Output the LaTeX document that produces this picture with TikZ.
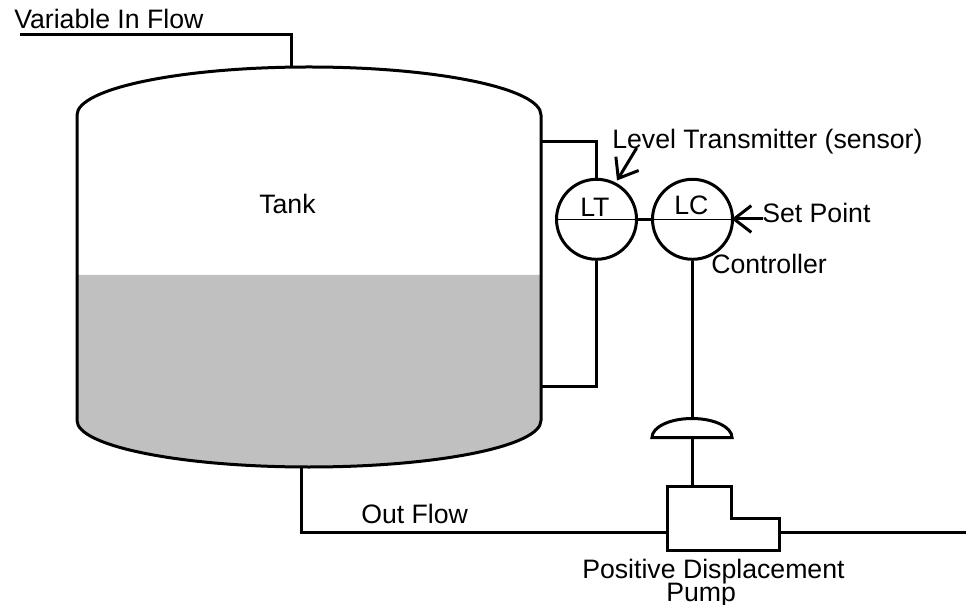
\documentclass[tikz,border=0pt]{standalone}
\usepackage{fontspec}
\setmainfont{Liberation Sans}
\usetikzlibrary{arrows.meta}

\begin{document}
\begin{tikzpicture}[x=0.75pt, y=-0.75pt,
			pipe/.style = {line width=2.25pt},
			pointer/.style = {line width=2.25pt, -{Straight Barb[length=13pt, width=20pt, line width=2.25pt]}},
			instrument/.style = {circle, draw, line width=2.25pt, minimum size=60pt, inner sep=0pt},
			lbl/.style = {anchor=base west, inner sep=0pt, font=\fontsize{20}{20}\selectfont}]

			\useasboundingbox (0, 0) rectangle (966, 605);

			% liquid in the tank
			\fill [fill={rgb,255:red,192;green,192;blue,192}] (77, 275) -- (541, 275) -- (541, 420.5) arc [start angle=0, end angle=-180, x radius=232, y radius=-46.5] -- cycle;

			% draw the tank
			\draw [pipe] (77, 420.5) -- (77, 115) arc [start angle=180, end angle=0, x radius=232, y radius=-48] -- (541, 420.5) arc [start angle=0, end angle=-180, x radius=232, y radius=-46.5];

			% instruments
			\node [instrument] (lt) at (596.5, 219.3) {};
			\node [instrument] (lc) at (692.5, 219.3) {};
			\draw [line width=0.8pt] (lt.west) -- (lt.east);
			\draw [line width=0.8pt] (lc.west) -- (lc.east);
			\draw [pipe] (lt) -- (lc);

			% impulse lines from the tank to the transmitter
			\coordinate (tapupper) at (541, 142);
			\coordinate (taplower) at (541, 386);
			\draw [pipe] (tapupper) -| (lt.north);
			\draw [pipe] (taplower) -| (lt.south);

			% in flow line
			\coordinate (inend) at (20, 35);
			\coordinate (intank) at (291, 67);
			\draw [pipe] (inend) -| (intank);

			% valve on top of the pump
			\coordinate (domeleft) at (652, 437.5);
			\coordinate (domeright) at (732, 437.5);
			\coordinate (domebase) at (692.5, 437.5);
			\coordinate (domeapex) at (692.5, 418.5);
			\coordinate (pumptop) at (692.5, 486.5);
			\draw [pipe] (lc.south) -- (domeapex);
			\draw [pipe] (domeleft) arc [start angle=180, end angle=0, x radius=40, y radius=-19] -- cycle;
			\draw [pipe] (domebase) -- (pumptop);

			% draw the pump
			\draw [pipe] (667, 486.5) -- (731, 486.5) -- (731, 518) -- (779, 518) -- (779, 550.5) -- (667, 550.5) -- cycle;

			% out flow line
			\coordinate (outtank) at (301.5, 467);
			\coordinate (pumpin) at (667, 532.5);
			\coordinate (pumpout) at (781, 532);
			\coordinate (outend) at (966, 532);
			\draw [pipe] (outtank) |- (pumpin);
			\draw [pipe] (pumpout) -- (outend);

			% labels
			\node [lbl] (inlabel) at (14, 29) {Variable In Flow};
			\node [lbl] (tanklabel) at (259, 214) {Tank};
			\node [lbl] (ltlabel) at (580, 216.5) {LT};
			\node [lbl] (lclabel) at (674, 215) {LC};
			\node [lbl] (sensorlabel) at (612, 148.5) {Level Transmitter (sensor)};
			\node [lbl] (setlabel) at (762, 223) {Set Point};
			\node [lbl] (controllerlabel) at (711, 274) {Controller};
			\node [lbl] (outlabel) at (361, 523) {Out Flow};
			\node [lbl, text depth=0pt] (pumplabel) at (582, 578) {Positive Displacement};
			\node [lbl, text height=14pt] (pumplabeltwo) at (666, 601) {Pump};

			% arrows to the instruments
			\coordinate (sensortail) at (636.7, 148);
			\coordinate (sensortip) at (617, 180.5);
			\coordinate (settail) at (763, 219);
			\coordinate (settip) at (731.5, 219);
			\draw [pointer] (sensortail) -- (sensortip);
			\draw [pointer] (settail) -- (settip);
		\end{tikzpicture}
\end{document}
